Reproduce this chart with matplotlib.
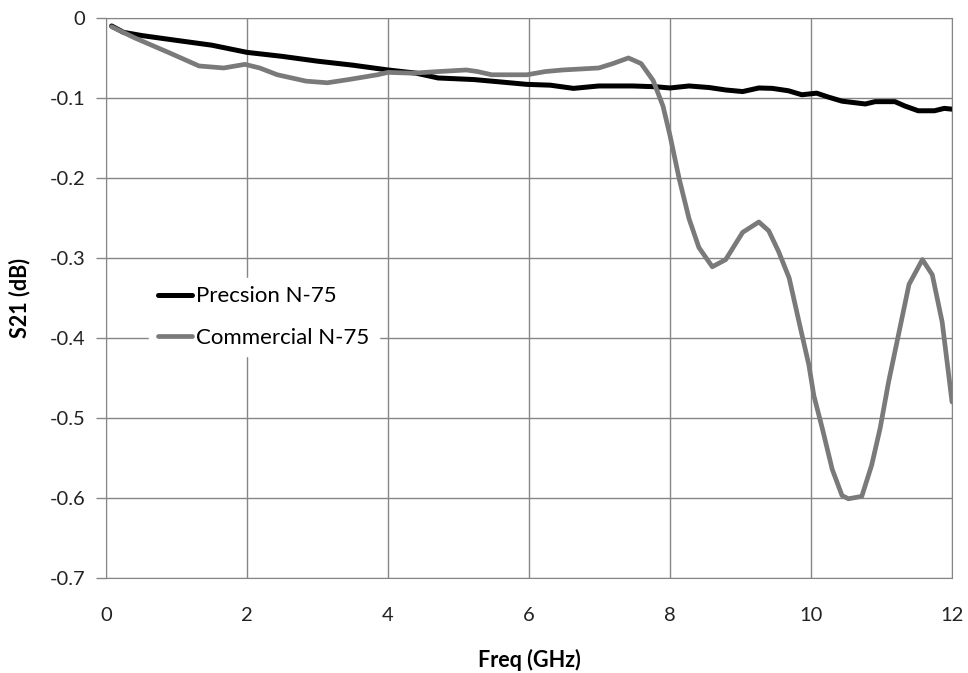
import matplotlib
matplotlib.use("Agg")
import matplotlib.pyplot as plt

# Precision N-75 (black)
prec_f = [0.08, 0.25, 0.51, 1.0, 1.5, 2.0, 2.5, 3.0, 3.5, 4.0, 4.4, 4.71, 5.22, 5.6,
          5.97, 6.3, 6.63, 6.99, 7.47, 7.8, 8.0, 8.27, 8.56, 8.79, 9.03, 9.26, 9.45,
          9.68, 9.87, 10.08, 10.25, 10.44, 10.77, 10.91, 11.19, 11.33, 11.52, 11.75,
          11.89, 12.0]
prec_s21 = [-0.010, -0.018, -0.022, -0.028, -0.034, -0.043, -0.048, -0.054, -0.059,
            -0.065, -0.069, -0.075, -0.077, -0.080, -0.083, -0.084, -0.088, -0.085,
            -0.085, -0.086, -0.0875, -0.085, -0.087, -0.090, -0.092, -0.0875, -0.088,
            -0.091, -0.096, -0.094, -0.099, -0.104, -0.1075, -0.1046, -0.1046, -0.110,
            -0.116, -0.116, -0.113, -0.114]

# Commercial N-75 (grey)
comm_f = [0.08, 0.41, 0.91, 1.32, 1.67, 1.97, 2.18, 2.43, 2.84, 3.14, 3.44, 3.85,
          4.0, 4.35, 4.71, 5.11, 5.27, 5.47, 5.97, 6.23, 6.48, 6.99, 7.19, 7.41,
          7.59, 7.76, 7.9, 8.0, 8.13, 8.27, 8.41, 8.6, 8.79, 9.03, 9.26, 9.4, 9.54,
          9.69, 9.83, 9.97, 10.04, 10.16, 10.3, 10.44, 10.53, 10.72, 10.86, 10.98,
          11.1, 11.25, 11.39, 11.58, 11.72, 11.86, 12.0]
comm_s21 = [-0.011, -0.025, -0.044, -0.060, -0.0625, -0.058, -0.0625, -0.071, -0.079,
            -0.081, -0.077, -0.071, -0.068, -0.069, -0.067, -0.065, -0.067, -0.071,
            -0.071, -0.067, -0.065, -0.0625, -0.057, -0.050, -0.057, -0.078, -0.110,
            -0.147, -0.201, -0.251, -0.287, -0.311, -0.302, -0.268, -0.255, -0.266,
            -0.292, -0.325, -0.380, -0.434, -0.472, -0.513, -0.564, -0.597, -0.601,
            -0.598, -0.559, -0.513, -0.455, -0.392, -0.333, -0.302, -0.321, -0.380,
            -0.480]

x_ticks = [0, 2, 4, 6, 8, 10, 12]
y_ticks = [0, -0.1, -0.2, -0.3, -0.4, -0.5, -0.6, -0.7]
y_labels = ["0", "-0.1", "-0.2", "-0.3", "-0.4", "-0.5", "-0.6", "-0.7"]

plt.rcParams['font.family'] = ['Lato', 'DejaVu Sans']

fig, ax = plt.subplots(figsize=(9.68, 6.73), dpi=100)
plt.subplots_adjust(left=0.1095, right=0.9835, top=0.9733, bottom=0.1412)

ax.plot(prec_f, prec_s21, color='black', lw=3.6, label='Precsion N-75', solid_capstyle='round')
ax.plot(comm_f, comm_s21, color='#7a7a7a', lw=3.4, label='Commercial N-75', solid_capstyle='round')

ax.set_xlim(0, 12)
ax.set_ylim(-0.7, 0)
ax.set_xticks(x_ticks)
ax.set_yticks(y_ticks)
ax.set_yticklabels(y_labels)
ax.tick_params(axis='x', length=0, pad=21, labelsize=14.5, colors='#222222')
ax.tick_params(axis='y', length=7, width=1, color='#868686', pad=8, labelsize=14.5, labelcolor='#222222')
ax.grid(True, color='#868686', lw=1)
ax.set_axisbelow(True)
for s in ax.spines.values():
    s.set_color('#868686')

ax.set_xlabel('Freq (GHz)', fontsize=15.5, fontweight='bold', labelpad=18)
ax.set_ylabel('S21 (dB)', fontsize=15.5, fontweight='bold', labelpad=14)

leg = ax.legend(loc='center left', bbox_to_anchor=(0.051, 0.466), frameon=True,
                fontsize=16, handlelength=1.55, handletextpad=0.18, labelspacing=0.95,
                borderaxespad=0, fancybox=False)
leg.get_frame().set_edgecolor('white')
leg.get_frame().set_facecolor('white')
leg.get_frame().set_alpha(1)

fig.savefig('out.png', dpi=100)
